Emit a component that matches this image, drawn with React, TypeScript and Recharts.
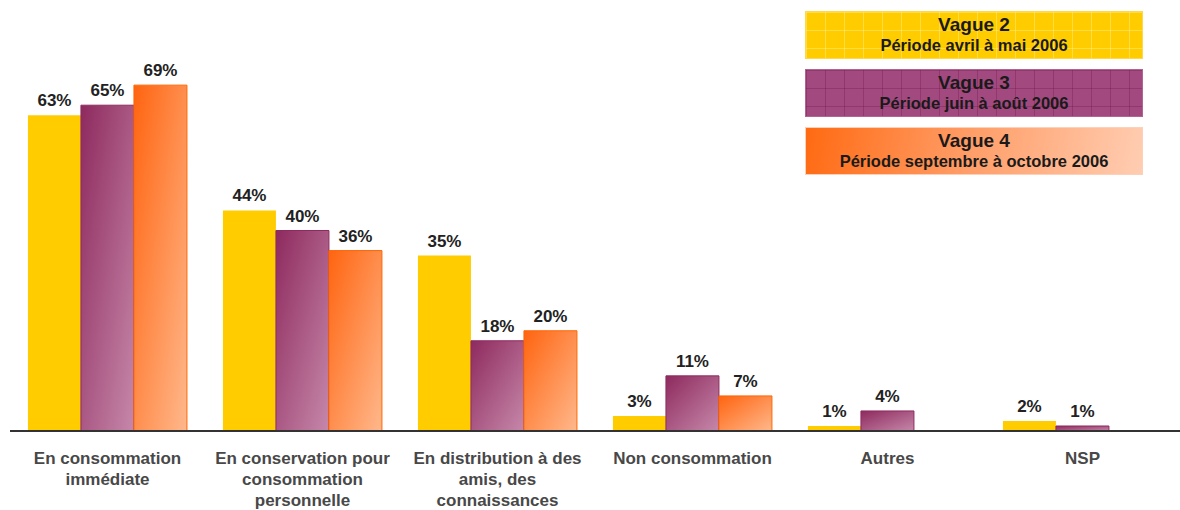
import React from 'react';
import { BarChart, Bar, XAxis, YAxis, LabelList, Legend } from 'recharts';

const categories = [
  'En consommation\nimmédiate',
  'En conservation pour\nconsommation\npersonnelle',
  'En distribution à des\namis, des\nconnaissances',
  'Non consommation',
  'Autres',
  'NSP',
];
const vague2 = [63, 44, 35, 3, 1, 2];
const vague3 = [65, 40, 18, 11, 4, 1];
const vague4 = [69, 36, 20, 7, null, null];
const seriesNames = ['Vague 2', 'Vague 3', 'Vague 4'];
const periods = ['Période avril à mai 2006', 'Période juin à août 2006', 'Période septembre à octobre 2006'];
const edgeTicks = [0, 1, 2, 3, 4, 5, 6];

const data = categories.map((c, i) => ({ name: c, v2: vague2[i], v3: vague3[i], v4: vague4[i] }));

const FONT = '"Liberation Sans", Arial, sans-serif';

const legendStyles: React.CSSProperties[] = [
  {
    background: '#FFCC00',
    backgroundImage:
      'linear-gradient(rgba(255,240,150,0.45) 1px, transparent 1px), linear-gradient(90deg, rgba(255,240,150,0.45) 1px, transparent 1px)',
    backgroundSize: '19px 18px',
    border: '1px solid #FFD84A',
  },
  {
    background: '#A24A80',
    backgroundImage:
      'linear-gradient(rgba(120,20,80,0.35) 1px, transparent 1px), linear-gradient(90deg, rgba(120,20,80,0.35) 1px, transparent 1px)',
    backgroundSize: '19px 18px',
    border: '1px solid #B0648F',
  },
  {
    background: 'linear-gradient(100deg, #FF6A12 0%, #FF9A62 45%, #FFCDB2 100%)',
    border: '1px solid #FFD0B8',
  },
];

const LegendBoxes = (props: any) => {
  const payload = props.payload || [];
  return (
    <div style={{ fontFamily: FONT, color: '#1a1a1a' }}>
      {payload.map((p: any, i: number) => (
        <div
          key={p.value}
          style={{
            ...legendStyles[i],
            boxSizing: 'border-box',
            height: 48,
            marginBottom: 10,
            textAlign: 'center',
            paddingTop: 2,
          }}
        >
          <div style={{ fontSize: 19, fontWeight: 'bold', lineHeight: '21px' }}>{p.value}</div>
          <div style={{ fontSize: 16.5, fontWeight: 'bold', lineHeight: '20px' }}>{periods[i]}</div>
        </div>
      ))}
    </div>
  );
};

const CategoryTick = (props: any) => {
  const { x, y, payload } = props;
  const lines = String(payload.value).split('\n');
  return (
    <text x={x} y={y} textAnchor="middle" fontSize={17} fontWeight="bold" fill="#484848" fontFamily={FONT}>
      {lines.map((l, i) => (
        <tspan key={i} x={x} dy={i === 0 ? 27 : 21}>
          {l}
        </tspan>
      ))}
    </text>
  );
};

const pct = (v: any) => (v == null ? '' : `${v}%`);

export default function App() {
  return (
    <div style={{ position: 'absolute', left: 0, top: 0, background: '#fff' }}>
      <BarChart
        width={1180}
        height={510}
        data={data}
        margin={{ top: 30, right: 0, left: 10, bottom: 0 }}
        barCategoryGap="9.2%"
        barGap={0}
      >
        <defs>
          <linearGradient id="gPurple" x1="0" y1="0" x2="1" y2="1">
            <stop offset="0%" stopColor="#8E2A5E" />
            <stop offset="100%" stopColor="#C688AA" />
          </linearGradient>
          <linearGradient id="gOrange" x1="0" y1="0" x2="1" y2="1">
            <stop offset="0%" stopColor="#FF6410" />
            <stop offset="100%" stopColor="#FFB88C" />
          </linearGradient>
        </defs>
        <XAxis
          xAxisId="cat"
          dataKey="name"
          interval={0}
          axisLine={false}
          tickLine={false}
          tickSize={0}
          tickMargin={0}
          height={73}
          tick={<CategoryTick />}
        />
        <XAxis
          xAxisId="base"
          type="number"
          domain={[0, 6]}
          ticks={edgeTicks}
          tick={false}
          tickSize={5}
          height={6}
          axisLine={{ stroke: '#333', strokeWidth: 2 }}
          tickLine={{ stroke: '#333', strokeWidth: 1.5 }}
        />
        <YAxis hide domain={[0, 80]} />
        <Legend
          layout="vertical"
          align="center"
          verticalAlign="middle"
          content={<LegendBoxes />}
          wrapperStyle={{ position: 'absolute', left: 805, top: 11, width: 338, height: 'auto' }}
        />
        <Bar xAxisId="cat" dataKey="v2" name={seriesNames[0]} fill="#FFCC00" isAnimationActive={false}>
          <LabelList dataKey="v2" position="top" offset={9} formatter={pct} fontSize={17} fontWeight="bold" fill="#222" fontFamily={FONT} />
        </Bar>
        <Bar xAxisId="cat" dataKey="v3" name={seriesNames[1]} fill="url(#gPurple)" stroke="#8E2A5E" strokeWidth={1} isAnimationActive={false}>
          <LabelList dataKey="v3" position="top" offset={9} formatter={pct} fontSize={17} fontWeight="bold" fill="#222" fontFamily={FONT} />
        </Bar>
        <Bar xAxisId="cat" dataKey="v4" name={seriesNames[2]} fill="url(#gOrange)" stroke="#FF6600" strokeWidth={1} isAnimationActive={false}>
          <LabelList dataKey="v4" position="top" offset={9} formatter={pct} fontSize={17} fontWeight="bold" fill="#222" fontFamily={FONT} />
        </Bar>
      </BarChart>
    </div>
  );
}
